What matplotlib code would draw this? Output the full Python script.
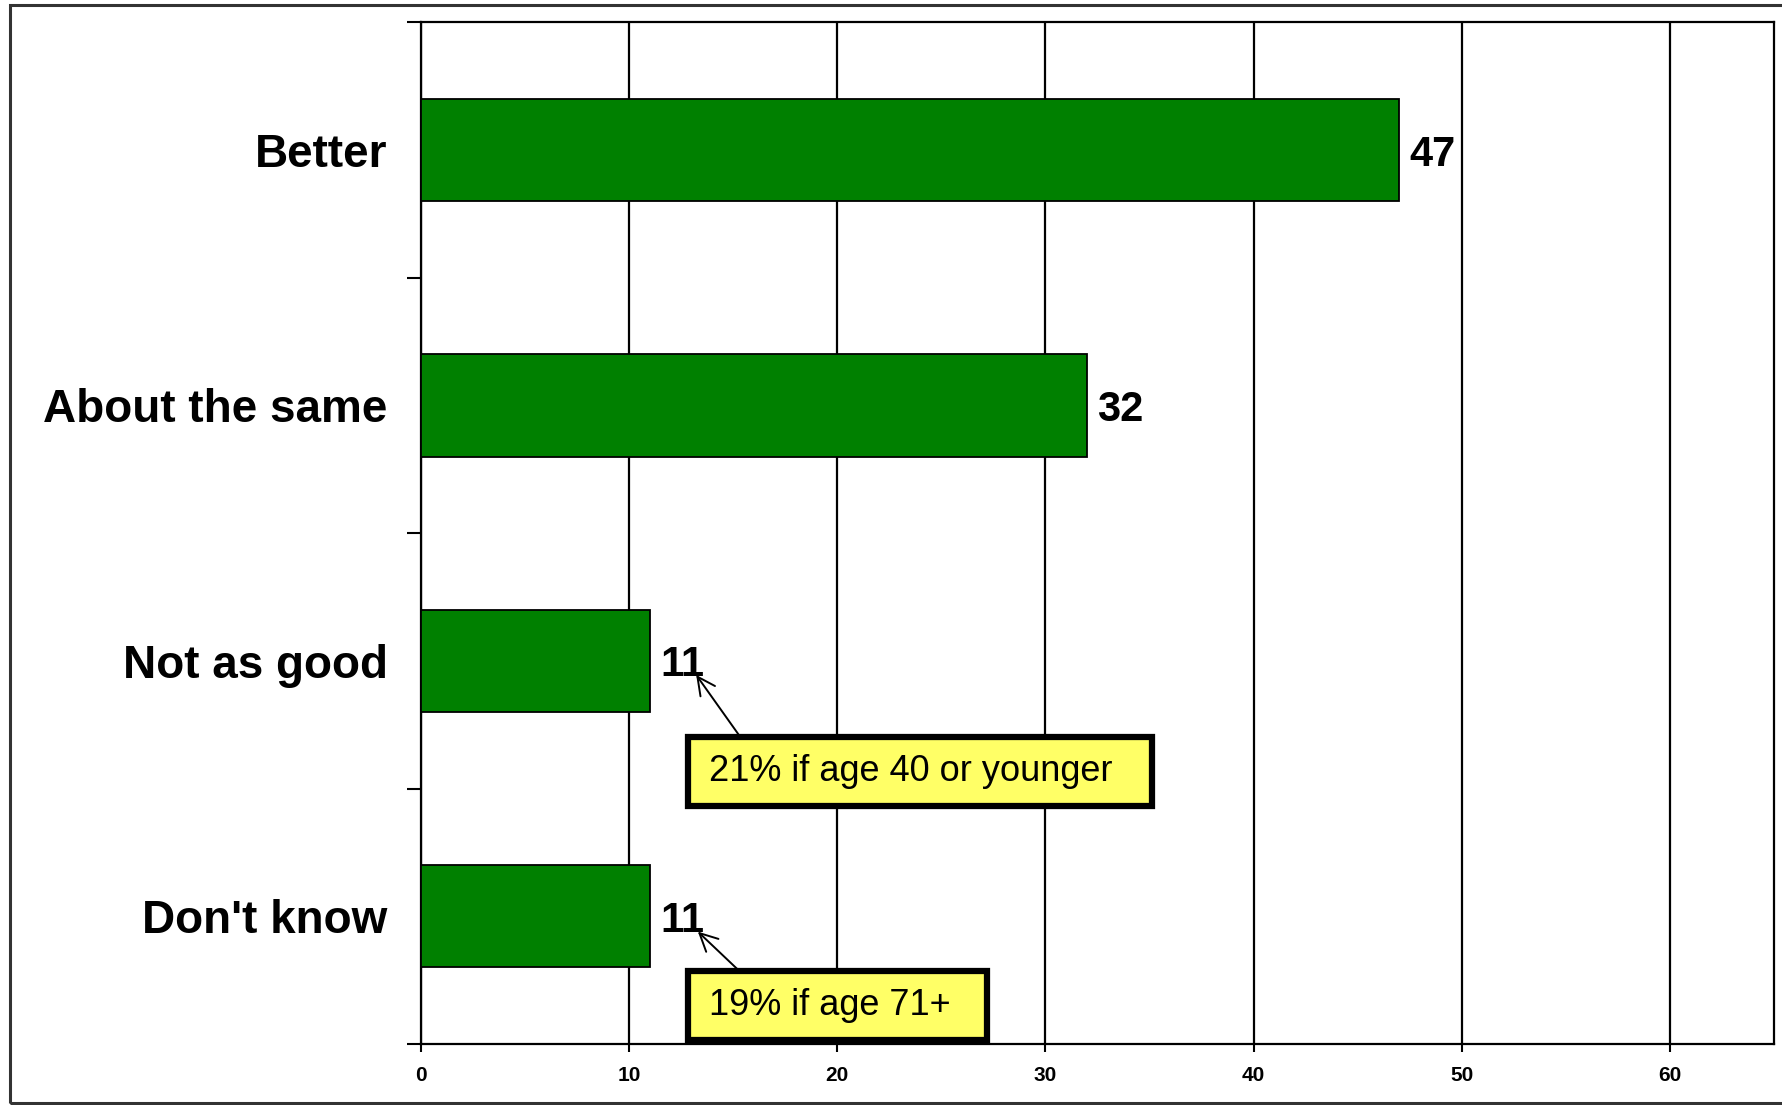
import matplotlib
matplotlib.use("Agg")
import matplotlib.pyplot as plt
from matplotlib import patches

categories = ["Better", "About the same", "Not as good", "Don't know"]
values = [47, 32, 11, 11]
x_ticks = [0, 10, 20, 30, 40, 50, 60]
callout_texts = ["21% if age 40 or younger", "19% if age 71+"]

plt.rcParams['font.family'] = ['Liberation Sans', 'DejaVu Sans']

W, H = 1783, 1105
fig = plt.figure(figsize=(W / 100, H / 100), dpi=100)
ax = fig.add_axes([421 / W, 1 - 1044 / H, (1774 - 421) / W, (1044 - 22.3) / H])

ypos = list(range(len(categories)))
ax.barh(ypos, values, height=0.4, color="#008000", edgecolor="black",
        linewidth=1.3, zorder=3)

ax.set_xlim(0, 65)
ax.set_ylim(len(categories) - 0.5, -0.5)

ax.set_xticks(x_ticks)
ax.set_xticklabels([str(t) for t in x_ticks], fontsize=15, fontweight='bold')
ax.tick_params(axis='x', direction='out', length=6, width=1.5, pad=10)
ax.xaxis.grid(True, color='black', linewidth=1.6, zorder=1)
ax.set_axisbelow(True)

ax.set_yticks([i - 0.5 for i in range(len(categories) + 1)])
ax.set_yticklabels([])
ax.tick_params(axis='y', which='major', direction='out', length=10, width=1.5)
ax.set_yticks(ypos, minor=True)
ax.set_yticklabels(categories, minor=True, fontsize=33, fontweight='bold')
ax.tick_params(axis='y', which='minor', length=0, pad=24)

for s in ax.spines.values():
    s.set_linewidth(1.6)
    s.set_color('black')

for y, v in zip(ypos, values):
    ax.text(v + 0.5, y, str(v), ha='left', va='center_baseline',
            fontsize=30, fontweight='bold', zorder=5)

# callout boxes
boxes = [((12.84, 2.298), 35.1 - 12.84, 2.568 - 2.298),
         ((12.84, 3.214), 27.2 - 12.84, 3.484 - 3.214)]
text_pos = [(13.85, 2.433), (13.85, 3.35)]
arrows = [((15.34, 2.298), (13.22, 2.055)), ((15.24, 3.21), (13.3, 3.06))]
for (xy, w, h), (tx, ty), (start, end), txt in zip(boxes, text_pos, arrows, callout_texts):
    ax.add_patch(patches.Rectangle(xy, w, h, facecolor="#FFFF66",
                                   edgecolor='black', linewidth=4.5, zorder=6))
    ax.text(tx, ty, txt, ha='left', va='center', fontsize=26, zorder=7)
    ax.annotate("", xy=end, xytext=start,
                arrowprops=dict(arrowstyle='->', lw=1.4, color='black',
                                mutation_scale=32, shrinkA=0, shrinkB=0),
                zorder=7)

# outer frame
fig.patches.append(patches.Rectangle((10 / W, 1 - 1103 / H), 1.2, (1103 - 5) / H,
                                     transform=fig.transFigure, fill=False,
                                     edgecolor='#333333', linewidth=2.2,
                                     clip_on=False))

fig.savefig("out.png", dpi=100)
